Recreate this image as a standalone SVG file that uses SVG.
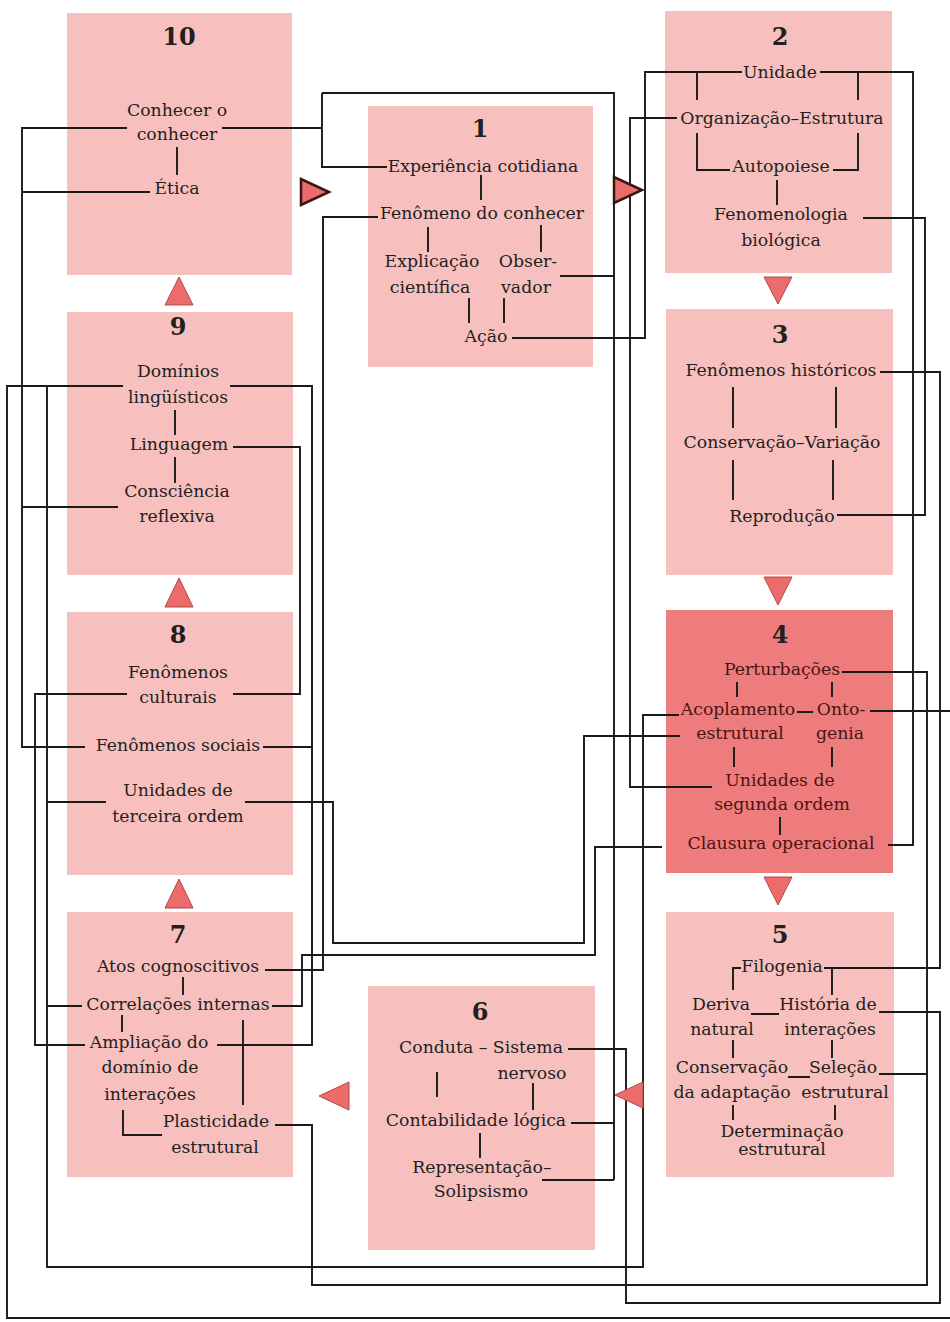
<svg xmlns="http://www.w3.org/2000/svg" width="950" height="1322" viewBox="0 0 950 1322">
<style>
.box{fill:#f8bfbf}
.box4{fill:#ef7c7c}
.t{font-family:"DejaVu Serif","Liberation Serif",serif;font-size:17.3px;fill:#231f20;text-anchor:middle}
.t4{fill:#4a1414}
.n{font-family:"DejaVu Serif","Liberation Serif",serif;font-size:24px;font-weight:bold;fill:#231f20;text-anchor:middle}
.c{fill:none;stroke:#1a1a1a;stroke-width:1.9}
.tri{fill:#ec6b6b;stroke:#b04848;stroke-width:1}
.tri3{fill:#ec6b6b;stroke:#3a1515;stroke-width:2.5}
</style>
<rect width="950" height="1322" fill="#ffffff"/>
<g id="node10">
<rect class="box" x="67" y="13" width="225" height="262"/>
<text class="n" x="179" y="45">10</text>
<text class="t" x="177" y="116">Conhecer o</text>
<text class="t" x="177" y="140">conhecer</text>
<text class="t" x="177" y="194">Ética</text>
</g>
<g id="node1">
<rect class="box" x="368" y="106" width="225" height="261"/>
<text class="n" x="480" y="137">1</text>
<text class="t" x="483" y="172">Experiência cotidiana</text>
<text class="t" x="482" y="219">Fenômeno do conhecer</text>
<text class="t" x="432" y="267">Explicação</text>
<text class="t" x="528" y="267">Obser-</text>
<text class="t" x="430" y="293">científica</text>
<text class="t" x="526" y="293">vador</text>
<text class="t" x="486" y="342">Ação</text>
</g>
<g id="node2">
<rect class="box" x="665" y="11" width="227" height="262"/>
<text class="n" x="780" y="45">2</text>
<text class="t" x="780" y="78">Unidade</text>
<text class="t" x="782" y="124">Organização–Estrutura</text>
<text class="t" x="781" y="172">Autopoiese</text>
<text class="t" x="781" y="220">Fenomenologia</text>
<text class="t" x="781" y="246">biológica</text>
</g>
<g id="node3">
<rect class="box" x="666" y="309" width="227" height="266"/>
<text class="n" x="780" y="343">3</text>
<text class="t" x="781" y="376">Fenômenos históricos</text>
<text class="t" x="782" y="448">Conservação–Variação</text>
<text class="t" x="782" y="522">Reprodução</text>
</g>
<g id="node4">
<rect class="box4" x="666" y="610" width="227" height="263"/>
<text class="n" x="780" y="643">4</text>
<text class="t t4" x="782" y="675">Perturbações</text>
<text class="t t4" x="738" y="715">Acoplamento</text>
<text class="t t4" x="841" y="715">Onto-</text>
<text class="t t4" x="740" y="739">estrutural</text>
<text class="t t4" x="840" y="739">genia</text>
<text class="t t4" x="780" y="786">Unidades de</text>
<text class="t t4" x="782" y="810">segunda ordem</text>
<text class="t t4" x="781" y="849">Clausura operacional</text>
</g>
<g id="node5">
<rect class="box" x="666" y="912" width="228" height="265"/>
<text class="n" x="780" y="943">5</text>
<text class="t" x="782" y="972">Filogenia</text>
<text class="t" x="721" y="1010">Deriva</text>
<text class="t" x="828" y="1010">História de</text>
<text class="t" x="722" y="1035">natural</text>
<text class="t" x="830" y="1035">interações</text>
<text class="t" x="732" y="1073">Conservação</text>
<text class="t" x="843" y="1073">Seleção</text>
<text class="t" x="732" y="1098">da adaptação</text>
<text class="t" x="845" y="1098">estrutural</text>
<text class="t" x="782" y="1137">Determinação</text>
<text class="t" x="782" y="1155">estrutural</text>
</g>
<g id="node6">
<rect class="box" x="368" y="986" width="227" height="264"/>
<text class="n" x="480" y="1020">6</text>
<text class="t" x="481" y="1053">Conduta – Sistema</text>
<text class="t" x="532" y="1079">nervoso</text>
<text class="t" x="476" y="1126">Contabilidade lógica</text>
<text class="t" x="482" y="1173">Representação–</text>
<text class="t" x="481" y="1197">Solipsismo</text>
</g>
<g id="node7">
<rect class="box" x="67" y="912" width="226" height="265"/>
<text class="n" x="178" y="943">7</text>
<text class="t" x="178" y="972">Atos cognoscitivos</text>
<text class="t" x="178" y="1010">Correlações internas</text>
<text class="t" x="149" y="1048">Ampliação do</text>
<text class="t" x="150" y="1073">domínio de</text>
<text class="t" x="150" y="1100">interações</text>
<text class="t" x="216" y="1127">Plasticidade</text>
<text class="t" x="215" y="1153">estrutural</text>
</g>
<g id="node8">
<rect class="box" x="67" y="612" width="226" height="263"/>
<text class="n" x="178" y="643">8</text>
<text class="t" x="178" y="678">Fenômenos</text>
<text class="t" x="178" y="703">culturais</text>
<text class="t" x="178" y="751">Fenômenos sociais</text>
<text class="t" x="178" y="796">Unidades de</text>
<text class="t" x="178" y="822">terceira ordem</text>
</g>
<g id="node9">
<rect class="box" x="67" y="312" width="226" height="263"/>
<text class="n" x="178" y="335">9</text>
<text class="t" x="178" y="377">Domínios</text>
<text class="t" x="178" y="403">lingüísticos</text>
<text class="t" x="179" y="450">Linguagem</text>
<text class="t" x="177" y="497">Consciência</text>
<text class="t" x="177" y="522">reflexiva</text>
</g>
<g id="connectors">
<path class="c" d="M222,128 H322 M322,93 V167 H387 M322,93 H614 V1180 M560,276 H614 M571,1123 H614 M542,1180 H614"/>
<path class="c" d="M127,128 H22 V747 H85 M22,192 H150 M22,507 H118"/>
<path class="c" d="M742,72 H645 V338 H512"/>
<path class="c" d="M820,72 H913 V845 H888"/>
<path class="c" d="M677,118 H630 V787 H712"/>
<path class="c" d="M863,218 H925 V515 H837"/>
<path class="c" d="M880,372 H940 V968 H824"/>
<path class="c" d="M842,672 H927 V1285 H312 V1125 H275 M879,1074 H927"/>
<path class="c" d="M870,711 H950 M950,1318 H7 V386 H123"/>
<path class="c" d="M679,715 H643 V1267 H47 V386 M47,1006 H82 M47,802 H106"/>
<path class="c" d="M680,736 H584 V943 H333 V802 H245"/>
<path class="c" d="M662,847 H595 V955 H302 V1006 H272"/>
<path class="c" d="M378,217 H323 V970 H265"/>
<path class="c" d="M230,386 H312 V1045 H217 M263,747 H312"/>
<path class="c" d="M233,447 H300 V694 H233"/>
<path class="c" d="M127,694 H35 V1045 H85"/>
<path class="c" d="M568,1049 H626 V1303 H940 V1012 H879"/>
<path class="c" d="M177,147 V175"/>
<path class="c" d="M481,175 V200 M428,227 V252 M541,225 V252 M469,298 V323 M504,298 V323"/>
<path class="c" d="M697,72 V100 M858,72 V100 M697,133 V170 H730 M858,133 V170 H833 M777,180 V205"/>
<path class="c" d="M175,410 V435 M175,457 V483"/>
<path class="c" d="M733,387 V428 M836,387 V428 M733,460 V500 M833,460 V500"/>
<path class="c" d="M737,682 V697 M832,682 V697 M797,712 H813 M734,747 V767 M832,747 V767 M780,817 V835"/>
<path class="c" d="M741,968 H733 V990 M832,968 V995 M751,1014 H779 M733,1040 V1058 M832,1040 V1058 M788,1077 H810 M733,1105 V1120 M835,1105 V1120"/>
<path class="c" d="M437,1072 V1097 M533,1083 V1110 M480,1133 V1158"/>
<path class="c" d="M183,977 V995 M122,1015 V1032 M123,1110 V1135 H162 M243,1020 V1105"/>
</g>
<g id="arrows">
<polygon class="tri3" points="301,179 301,205 329,192"/>
<polygon class="tri3" points="614,177 614,203 642,190"/>
<polygon class="tri" points="764,277 792,277 778,304"/>
<polygon class="tri" points="764,577 792,577 778,605"/>
<polygon class="tri" points="764,877 792,877 778,905"/>
<polygon class="tri" points="643,1082 643,1108 615,1095"/>
<polygon class="tri" points="349,1082 349,1110 319,1096"/>
<polygon class="tri" points="165,908 193,908 179,879"/>
<polygon class="tri" points="165,607 193,607 179,578"/>
<polygon class="tri" points="165,305 193,305 179,277"/>
</g>
</svg>
